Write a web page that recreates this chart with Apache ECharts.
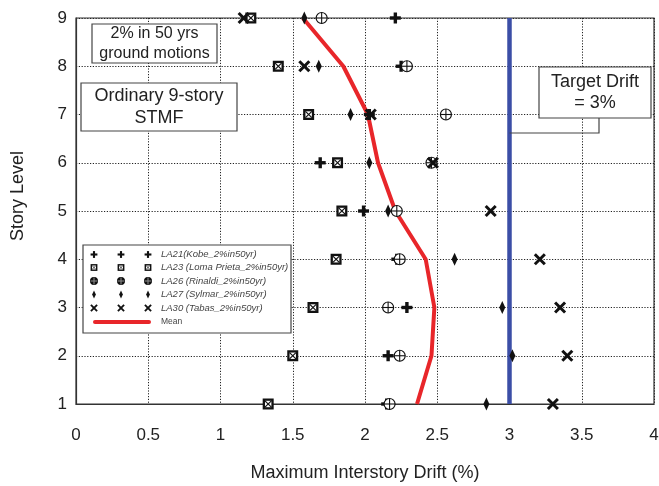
<!DOCTYPE html>
<html>
<head>
<meta charset="utf-8">
<script src="https://cdn.jsdelivr.net/npm/echarts@6/dist/echarts.min.js"></script>
<style>
  html, body { margin: 0; padding: 0; background: #fff; }
  #chart { width: 659px; height: 486px; }
</style>
</head>
<body>
<div id="chart"></div>
<script>
// Story levels (1 = ground floor storey, 9 = roof storey)
const stories = [1, 2, 3, 4, 5, 6, 7, 8, 9];

// Maximum interstory drift (%) per storey for each ground motion record
const la21 = [2.15, 2.16, 2.29, 2.22, 1.99, 1.69, 2.03, 2.25, 2.21];
const la23 = [1.33, 1.50, 1.64, 1.80, 1.84, 1.81, 1.61, 1.40, 1.21];
const la26 = [2.17, 2.24, 2.16, 2.24, 2.22, 2.46, 2.56, 2.29, 1.70];
const la27 = [2.84, 3.02, 2.95, 2.62, 2.16, 2.03, 1.90, 1.68, 1.58];
const la30 = [3.30, 3.40, 3.35, 3.21, 2.87, 2.47, 2.04, 1.58, 1.16];
const meanDrift = [2.36, 2.46, 2.48, 2.42, 2.21, 2.09, 2.02, 1.85, 1.57];

const targetDrift = 3;

const recordNames = [
  'LA21(Kobe_2%in50yr)',
  'LA23 (Loma Prieta_2%in50yr)',
  'LA26 (Rinaldi_2%in50yr)',
  'LA27 (Sylmar_2%in50yr)',
  'LA30 (Tabas_2%in50yr)'
];
const markerKinds = ['plus', 'boxx', 'circleplus', 'diamond', 'cross'];
const recordValues = [la21, la23, la26, la27, la30];

const xTicks = { min: 0, max: 4, step: 0.5 };
const yTicks = { min: 1, max: 9, step: 1 };

const INK = '#111';

// Builds a marker glyph centred on (cx, cy); s scales the glyph, z sets the layer
function marker(kind, cx, cy, s, z) {
  const ch = [];
  const zz = z || 0;
  if (kind === 'plus') {
    const a = 5.5 * s, t = 1.7 * s;
    ch.push({ type: 'rect', shape: { x: cx - a, y: cy - t, width: 2 * a, height: 2 * t }, style: { fill: INK } });
    ch.push({ type: 'rect', shape: { x: cx - t, y: cy - a, width: 2 * t, height: 2 * a }, style: { fill: INK } });
  } else if (kind === 'boxx') {
    const a = 5.5 * s, b = 3.2 * s;
    ch.push({ type: 'rect', shape: { x: cx - a, y: cy - a, width: 2 * a, height: 2 * a }, style: { fill: INK } });
    ch.push({ type: 'rect', shape: { x: cx - b, y: cy - b, width: 2 * b, height: 2 * b }, style: { fill: '#fff' } });
    ch.push({ type: 'line', shape: { x1: cx - b, y1: cy - b, x2: cx + b, y2: cy + b }, style: { stroke: INK, lineWidth: 1.2 * s } });
    ch.push({ type: 'line', shape: { x1: cx - b, y1: cy + b, x2: cx + b, y2: cy - b }, style: { stroke: INK, lineWidth: 1.2 * s } });
  } else if (kind === 'circleplus') {
    const r = 5.5 * s;
    const solid = s < 1;
    ch.push({ type: 'circle', shape: { cx: cx, cy: cy, r: r }, style: { fill: solid ? INK : '#fff', stroke: INK, lineWidth: 1.2 } });
    ch.push({ type: 'line', shape: { x1: cx - r, y1: cy, x2: cx + r, y2: cy }, style: { stroke: solid ? '#888' : INK, lineWidth: 1.1 } });
    ch.push({ type: 'line', shape: { x1: cx, y1: cy - r, x2: cx, y2: cy + r }, style: { stroke: solid ? '#888' : INK, lineWidth: 1.1 } });
  } else if (kind === 'diamond') {
    const w = 3 * s, h = 6.5 * s;
    ch.push({ type: 'polygon', shape: { points: [[cx, cy - h], [cx + w, cy], [cx, cy + h], [cx - w, cy]] }, style: { fill: INK } });
  } else if (kind === 'cross') {
    const a = 5 * s;
    ch.push({ type: 'line', shape: { x1: cx - a, y1: cy - a, x2: cx + a, y2: cy + a }, style: { stroke: INK, lineWidth: 3 * s } });
    ch.push({ type: 'line', shape: { x1: cx - a, y1: cy + a, x2: cx + a, y2: cy - a }, style: { stroke: INK, lineWidth: 3 * s } });
  }
  ch.forEach(c => { c.z = zz; });
  return { type: 'group', children: ch };
}

const FONT = 'Liberation Sans, Arial, Helvetica, sans-serif';

const recordSeries = recordNames.map((name, i) => ({
  name: name,
  type: 'custom',
  z: 5,
  data: stories.map((st, k) => [recordValues[i][k], st]),
  renderItem: (params, api) => {
    const p = api.coord([api.value(0), api.value(1)]);
    return marker(markerKinds[i], p[0], p[1], 1);
  }
}));

// Legend panel: three sample glyphs per record, MATLAB style
function legendGraphic() {
  const els = [];
  const x0 = 83, y0 = 245, w = 208, h = 88;
  els.push({ type: 'rect', shape: { x: x0, y: y0, width: w, height: h }, style: { fill: '#fff', stroke: '#444', lineWidth: 1.2 }, z: 20 });
  const rowY = [254.5, 267.5, 281, 294.5, 308, 322];
  recordNames.forEach((name, i) => {
    [94, 121, 148].forEach(mx => {
      els.push(marker(markerKinds[i], mx, rowY[i], 0.62, 22));
    });
    els.push({ type: 'text', x: 161, y: rowY[i], z: 21,
      style: { text: name, font: 'italic 9.5px ' + FONT, fill: '#444', verticalAlign: 'middle', align: 'left' } });
  });
  els.push({ type: 'line', z: 21, shape: { x1: 95, y1: rowY[5], x2: 149, y2: rowY[5] }, style: { stroke: '#e8262a', lineWidth: 4, lineCap: 'round' } });
  els.push({ type: 'text', x: 161, y: rowY[5], z: 21,
    style: { text: 'Mean', font: '8.5px ' + FONT, fill: '#444', verticalAlign: 'middle', align: 'left' } });
  return els;
}

function noteBox(x, y, w, h, text, size) {
  return [
    { type: 'rect', z: 20, shape: { x: x, y: y, width: w, height: h }, style: { fill: '#fff', stroke: '#444', lineWidth: 1.2 } },
    { type: 'text', z: 21, x: x + w / 2, y: y + h / 2,
      style: { text: text, font: size + 'px ' + FONT, fill: '#222', align: 'center', verticalAlign: 'middle', lineHeight: size * 1.2 } }
  ];
}

const chart = echarts.init(document.getElementById('chart'), null, { renderer: 'canvas' });

function buildGraphic(targetX) {
  return [].concat(
    noteBox(92, 24, 125, 39, '2% in 50 yrs\nground motions', 16),
    noteBox(81, 83, 156, 48, 'Ordinary 9-story\nSTMF', 18),
    [{ type: 'polyline', z: 19, shape: { points: [[599, 118], [599, 133], [targetX, 133]] }, style: { stroke: '#444', lineWidth: 1.2, fill: null } }],
    noteBox(539, 67, 112, 51, 'Target Drift\n= 3%', 18),
    legendGraphic(),
    [{ type: 'text', x: 18, y: 196, rotation: Math.PI / 2,
       style: { text: 'Story Level', font: '18px ' + FONT, fill: '#222', align: 'center', verticalAlign: 'middle' } }]
  );
}

chart.setOption({
  backgroundColor: '#fff',
  animation: false,
  grid: { left: 76, right: 5, top: 18, bottom: 82, outerBoundsMode: 'none', containLabel: false, show: true, borderColor: '#333', borderWidth: 1.2, backgroundColor: 'transparent' },
  xAxis: {
    type: 'value', min: xTicks.min, max: xTicks.max, interval: xTicks.step,
    name: 'Maximum Interstory Drift (%)', nameLocation: 'middle', nameGap: 60,
    nameTextStyle: { fontSize: 18, color: '#222', fontFamily: FONT },
    axisLine: { show: true, lineStyle: { color: '#333', width: 1.2 } },
    axisTick: { show: false },
    axisLabel: { fontSize: 17, color: '#222', fontFamily: FONT, margin: 23, formatter: v => String(v) },
    splitLine: { show: true, lineStyle: { color: '#222', width: 1, type: [1.2, 1.6] } }
  },
  yAxis: {
    type: 'value', min: yTicks.min, max: yTicks.max, interval: yTicks.step,
    axisLine: { show: true, lineStyle: { color: '#333', width: 1.2 } },
    axisTick: { show: false },
    axisLabel: { fontSize: 17, color: '#222', fontFamily: FONT, margin: 9 },
    splitLine: { show: true, lineStyle: { color: '#222', width: 1, type: [1.2, 1.6] } }
  },
  series: [
    {
      name: 'Target Drift',
      type: 'line', z: 3, symbol: 'none', silent: true,
      data: [[targetDrift, yTicks.min], [targetDrift, yTicks.max]],
      lineStyle: { color: '#3b4ea6', width: 4.5 }
    },
    {
      name: 'Mean',
      type: 'line', z: 4, symbol: 'none', silent: true,
      data: stories.map((st, k) => [meanDrift[k], st]),
      lineStyle: { color: '#e8262a', width: 4 }
    }
  ].concat(recordSeries)
});

const tx = chart.convertToPixel({ gridIndex: 0 }, [targetDrift, yTicks.min])[0];
chart.setOption({ graphic: buildGraphic(tx) });
</script>
</body>
</html>
